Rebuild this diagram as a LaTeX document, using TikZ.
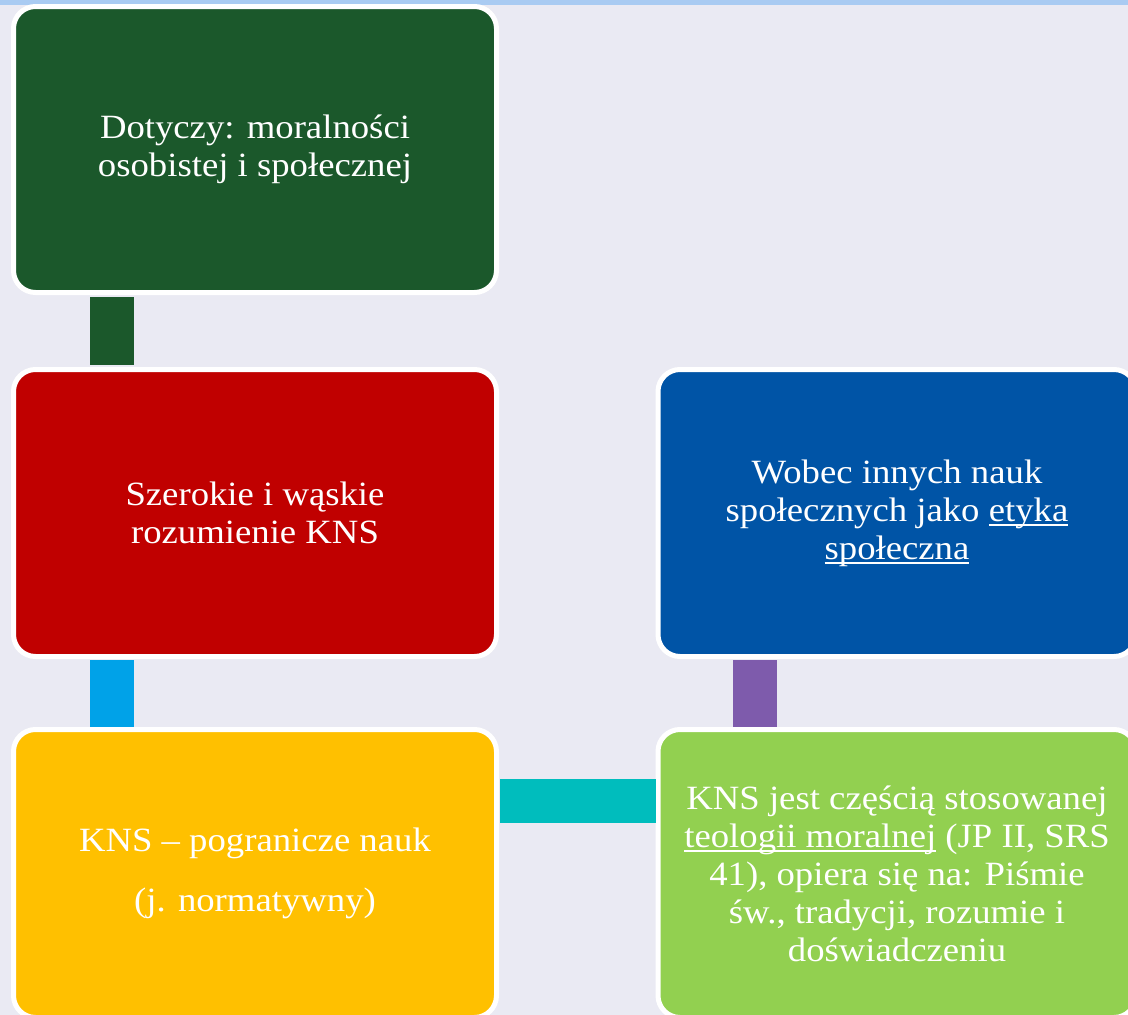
\documentclass[tikz,border=0pt]{standalone}
\usepackage{fontspec}
\setmainfont[FakeStretch=1.08]{Liberation Serif}
\usetikzlibrary{calc}
\definecolor{bgc}{HTML}{EAEAF3}
\definecolor{stripc}{HTML}{A9CBF2}
\definecolor{greenc}{HTML}{1B582B}
\definecolor{redc}{HTML}{C00000}
\definecolor{bluec}{HTML}{0054A6}
\definecolor{yellowc}{HTML}{FFC000}
\definecolor{limec}{HTML}{92D050}
\definecolor{cyanc}{HTML}{00A2E8}
\definecolor{purplec}{HTML}{7E5BAC}
\definecolor{tealc}{HTML}{00BDBD}
\newcommand\myul[1]{\setbox0\hbox{#1}\rlap{\rule[-5pt]{\wd0}{2pt}}\box0}
\tikzset{
  boxc/.style={draw=white, line width=5pt, rounded corners=22pt, fill=#1,
    minimum width=483pt, minimum height=287pt, align=center, text=white,
    font=\fontsize{34}{38}\selectfont, inner sep=0pt},
  conn/.style={line width=44pt, draw=#1, line cap=butt}
}
\begin{document}
\begin{tikzpicture}[x=1pt,y=-1pt]
\useasboundingbox (0,0) rectangle (1128,1015);
\clip (0,0) rectangle (1128,1015);
\fill[bgc] (0,0) rectangle (1128,1015);
\fill[stripc] (0,0) rectangle (1128,5);
\node[boxc=greenc, minimum height=286pt] (g) at (255,149.5) {Dotyczy: moralności\\osobistej i społecznej};
\node[boxc=redc] (r) at (255,513) {Szerokie i wąskie\\rozumienie KNS};
\node[boxc=yellowc, minimum height=288pt, font=\fontsize{34}{60}\selectfont] (y) at (255,873.5) {KNS – pogranicze nauk\\(j. normatywny)};
\node[boxc=bluec, minimum width=478pt] (b) at (897,513) {Wobec innych nauk\\społecznych jako \myul{etyka}\\\myul{społeczna}};
\node[boxc=limec, minimum width=478pt, minimum height=288pt] (l) at (897,873.5) {KNS jest częścią stosowanej\\\myul{teologii moralnej}\ (JP II, SRS\\41), opiera się na: Piśmie\\św., tradycji, rozumie i\\doświadczeniu};
\draw[conn=greenc, shorten <=2pt, shorten >=2pt] ($(g.south west)+(101,0)$) -- ($(r.north west)+(101,0)$);
\draw[conn=cyanc, shorten <=1pt, shorten >=0pt] ($(r.south west)+(101,0)$) -- ($(y.north west)+(101,0)$);
\draw[conn=purplec, shorten <=1pt, shorten >=0pt] ($(b.south west)+(99.5,0)$) -- ($(l.north west)+(99.5,0)$);
\draw[conn=tealc, shorten <=1pt, shorten >=0pt] ($(y.north east)+(0,74)$) -- ($(l.north west)+(0,74)$);
\end{tikzpicture}
\end{document}
